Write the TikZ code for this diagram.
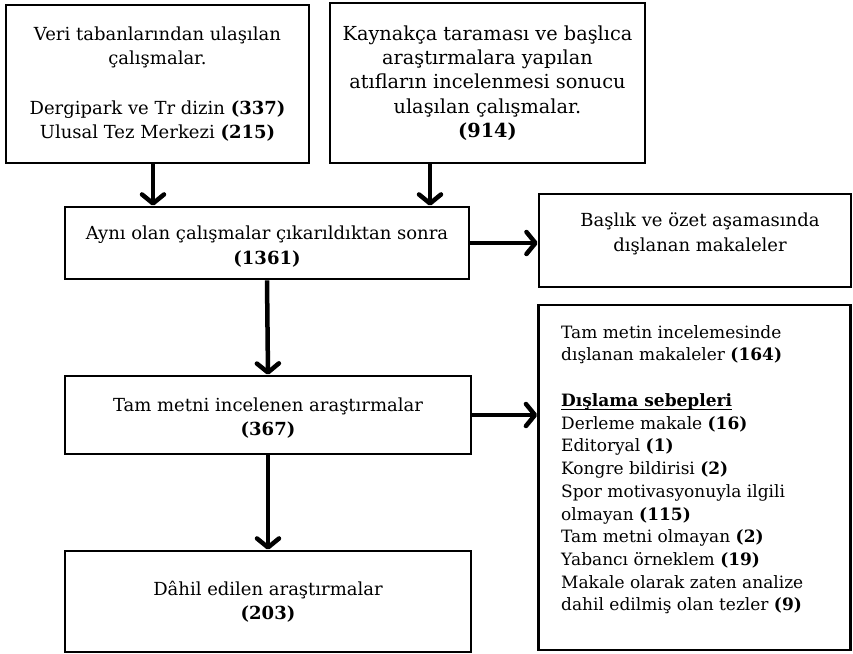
\documentclass[tikz,border=0pt]{standalone}
\usepackage{fontspec}
\setmainfont{DejaVu Serif}
\usetikzlibrary{arrows.meta}
\newcommand\myul[1]{\setbox0\hbox{#1}\rlap{\rule[-3.5pt]{\wd0}{1.2pt}}\box0}
\begin{document}
\begin{tikzpicture}[x=1pt,y=-1pt,
  box/.style={draw, line width=2.6pt, inner sep=0pt, align=center},
  txt/.style={inner sep=0pt, align=center, font=\fontsize{18}{24}\selectfont},
  conn/.style={line width=4.5pt, -{Straight Barb[length=9pt,width=22pt,line cap=round,line join=round]}},
]
\useasboundingbox (0,0) rectangle (853,653);
\node[box, txt, minimum width=303pt, minimum height=158pt] (b1) at (157.5,84)
  {Veri tabanlarından ulaşılan\\çalışmalar.\\[26pt]Dergipark ve Tr dizin \textbf{(337)}\\Ulusal Tez Merkezi \textbf{(215)}};
\node[box, txt, font=\fontsize{19.3}{24.4}\selectfont, minimum width=315pt, minimum height=160pt] (b2) at (487.5,83)
  {Kaynakça taraması ve başlıca\\araştırmalara yapılan\\atıfların incelenmesi sonucu\\ulaşılan çalışmalar.\\\textbf{(914)}};
\node[box, minimum width=404pt, minimum height=72pt] (b3) at (267,243) {};
\node[txt, font=\fontsize{18}{25}\selectfont] (b3t) at (267,246.5)
  {Aynı olan çalışmalar çıkarıldıktan sonra\\\textbf{(1361)}};
\node[box, minimum width=312pt, minimum height=93pt] (b4) at (695,240.5) {};
\node[txt, font=\fontsize{18}{25}\selectfont] (b4t) at (700,233.5)
  {Başlık ve özet aşamasında\\dışlanan makaleler};
\node[box, minimum width=312pt, minimum height=345pt] (b5) at (694.5,477.5) {};
\node[txt, font=\fontsize{17}{22.7}\selectfont, align=left, anchor=north west] (b5t) at (561,325)
  {Tam metin incelemesinde\\dışlanan makaleler \textbf{(164)}\\[23pt]%
   \myul{\textbf{Dışlama sebepleri}}\\
   Derleme makale \textbf{(16)}\\
   Editoryal \textbf{(1)}\\
   Kongre bildirisi \textbf{(2)}\\
   Spor motivasyonuyla ilgili\\
   olmayan \textbf{(115)}\\
   Tam metni olmayan \textbf{(2)}\\
   Yabancı örneklem \textbf{(19)}\\
   Makale olarak zaten analize\\
   dahil edilmiş olan tezler \textbf{(9)}};
\node[box, minimum width=406pt, minimum height=78pt] (b6) at (268,415) {};
\node[txt] (b6t) at (268,418)
  {Tam metni incelenen araştırmalar\\\textbf{(367)}};
\node[box, txt, minimum width=406pt, minimum height=101pt] (b7) at (268,601.5)
  {Dâhil edilen araştırmalar\\\textbf{(203)}};
\coordinate (a1) at (153,0);
\coordinate (a2) at (430,0);
\draw[conn] (b1.south -| a1) -- (b3.north -| a1);
\draw[conn] (b2.south -| a2) -- (b3.north -| a2);
\draw[conn] (b3.east) -- (b3.east -| b4.west);
\draw[conn] (b3.south) -- (b6.north);
\draw[conn] (b6.east) -- (b6.east -| b5.west);
\draw[conn] (b6.south) -- (b7.north);
\end{tikzpicture}
\end{document}
